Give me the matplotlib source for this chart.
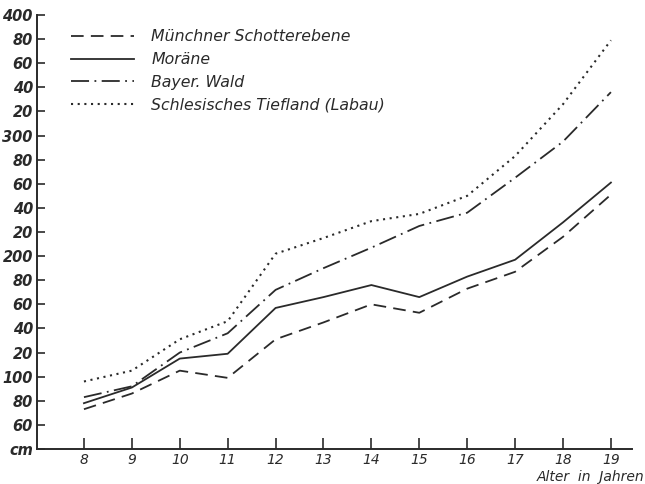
import matplotlib
matplotlib.use("Agg")
import matplotlib.pyplot as plt

# Körperhöhe (cm) nach Alter
ages = [8, 9, 10, 11, 12, 13, 14, 15, 16, 17, 18, 19]
muenchen = [73, 86, 105, 99, 131, 145, 160, 153, 173, 187, 216, 251]
moraene = [78, 91, 115, 119, 157, 166, 176, 166, 183, 197, 228, 261]
bayer_wald = [83, 92, 120, 136, 172, 190, 207, 225, 236, 265, 295, 336]
schlesien = [96, 105, 131, 146, 202, 215, 229, 235, 250, 283, 326, 379]

series_names = ["Münchner Schotterebene", "Moräne", "Bayer. Wald",
                "Schlesisches Tiefland (Labau)"]

y_ticks = list(range(40, 401, 20))
y_labels = ["cm", "60", "80", "100", "20", "40", "60", "80", "200", "20", "40",
            "60", "80", "300", "20", "40", "60", "80", "400"]

INK = "#2a2a2a"
FONT = "DejaVu Sans"

fig = plt.figure(figsize=(6.45, 4.84), dpi=100)
ax = fig.add_axes([37 / 645, 1 - 449 / 484, (632 - 37) / 645, (449 - 15) / 484])

styles = [
    dict(linestyle=(0, (7, 4)), linewidth=1.3),
    dict(linestyle="-", linewidth=1.3),
    dict(linestyle=(0, (10, 3, 1, 3)), linewidth=1.3),
    dict(linestyle=(0, (1, 2.2)), linewidth=1.5),
]
for vals, name, st in zip([muenchen, moraene, bayer_wald, schlesien], series_names, styles):
    ax.plot(ages, vals, color=INK, label=name, **st)

ax.set_xlim(7.02, 19.44)
ax.set_ylim(40, 400)

for side in ("top", "right"):
    ax.spines[side].set_visible(False)
for side in ("left", "bottom"):
    ax.spines[side].set_color(INK)
    ax.spines[side].set_linewidth(1.4)

ax.set_xticks(ages)
ax.set_xticklabels([str(a) for a in ages], fontstyle="italic", fontsize=10,
                   fontfamily=FONT, color=INK)
ax.set_yticks(y_ticks)
ax.set_yticklabels(y_labels, fontstyle="italic", fontsize=10.5, fontweight="bold",
                   fontfamily=FONT, color=INK)
ax.tick_params(axis="x", direction="in", length=8, width=1.2, colors=INK, pad=3)
ax.tick_params(axis="y", direction="in", length=6, width=1.2, colors=INK, pad=3)

fig.text(644 / 645, 1 - 477 / 484, "Alter  in  Jahren", ha="right", va="center",
         fontstyle="italic", fontsize=10, fontfamily=FONT, color=INK)

leg = ax.legend(loc="upper left", bbox_to_anchor=(28 / 595, 1 - 8 / 434),
                frameon=False, handlelength=4.0, handletextpad=1.1,
                labelspacing=0.5, borderaxespad=0,
                prop=dict(family=FONT, style="italic", size=11.3))
for t in leg.get_texts():
    t.set_color(INK)

fig.savefig("out.png", dpi=100)
